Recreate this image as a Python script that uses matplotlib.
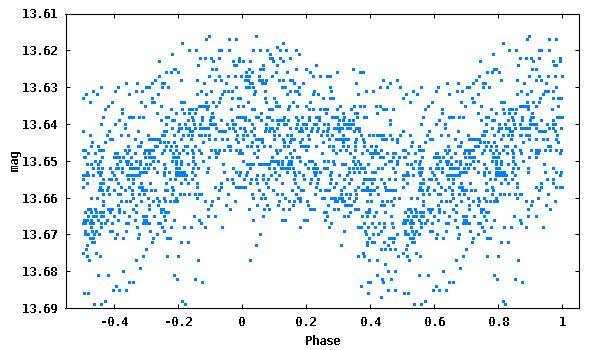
import matplotlib
matplotlib.use('Agg')
import matplotlib.pyplot as plt

# magnitudes are quantised to 0.001, so the points are kept row by row
row_616 = [-.103, .044]
row_617 = [-.112, -.041, -.019]
row_618 = [-.186, .128]
row_619 = [.109]
row_620 = [-.166, -.144, -.072, -.066, -.041, .034, .056, .078, .118, .137, .168]
row_621 = [-.218, .087, .178]
row_622 = [-.131, -.115, -.097, -.072, -.009, .087, .093, .118, .150]
row_623 = [-.258, -.091, -.028, -.009, .003, .025, .097, .128]
row_624 = [-.138, -.025, -.019, .065, .109, .231]
row_625 = [-.212, -.208, -.094, -.081, .022, .056, .065, .168, .200, .346]
row_626 = [-.236, -.221, -.199, .012, .031, .106, .140, .212, .296, .368, .377]
row_627 = [-.259, -.103, -.072, -.044, -.022, -.003, .012, .022, .053, .093, .221, .243, .265, .274]
row_628 = [-.271, -.191, -.141, -.084, -.066, .009, .019, .053, .062, .075, .115, .128, .150, .156, .440, .483]
row_629 = [-.361, -.327, -.280, -.249, -.243, -.119, -.050, .025, .031, .062, .072, .162, .190, .355, .461]
row_630 = [-.440, -.387, -.298, -.290, -.249, -.230, -.019, .012, .022, .034, .125, .134, .178, .274, .430, .452, .493]
row_631 = [-.465, -.396, -.330, -.312, -.128, -.097, -.056, -.044, -.031, .040, .072, .150, .165, .171, .224, .277, .387, .408]
row_632 = [-.487, -.453, -.353, -.262, -.141, -.112, -.062, .037, .140, .178, .221, .237, .362]
row_633 = [-.496, -.281, -.069, -.031, -.013, -.006, .072, .100, .252, .274, .284]
row_634 = [-.474, -.406, -.315, -.280, -.275, -.191, -.181, -.112, -.091, -.072, .019, .075, .106, .159, .212]
row_635 = [-.418, -.303, -.253, -.134, -.125, -.119, -.112, -.106, -.081, -.013, .003, .106, .115, .146, .171, .200, .306, .349, .368, .380, .418, .430]
row_636 = [-.428, -.375, -.222, -.187, -.166, -.156, -.144, -.109, -.034, .031, .037, .084, .093, .143, .209, .221, .243, .256, .265, .296, .340, .440, .449, .471]
row_637 = [-.375, -.265, -.206, -.181, -.166, -.147, -.094, .059, .262, .315, .352, .359, .421]
row_638 = [-.434, -.353, -.347, -.340, -.322, -.309, -.237, -.231, -.156, -.125, -.097, -.091, -.016, -.009, -.003, .003, .009, .044, .050, .078, .084, .131, .168, .187, .209, .231, .240, .281, .287, .296, .318, .359, .380, .387]
row_639 = [-.384, -.253, -.219, -.212, -.169, -.153, -.125, -.100, -.066, -.031, .009, .022, .059, .093, .109, .115, .122, .128, .143, .175, .209, .240, .302, .315, .334, .346, .461]
row_640 = [-.440, -.396, -.365, -.237, -.197, -.178, -.150, -.131, -.100, -.091, -.084, -.047, -.028, -.022, .031, .075, .112, .131, .137, .171, .190, .200, .224, .231, .256, .268, .299, .318, .327, .337, .346, .461]
row_641 = [-.365, -.219, -.197, -.191, -.175, -.166, -.147, -.129, -.123, -.117, -.110, -.104, -.081, -.041, -.028, -.006, .006, .037, .075, .087, .093, .109, .150, .168, .184, .200, .218, .237, .268, .287, .296, .306, .312, .327, .337, .355, .365]
row_642 = [-.496, -.415, -.325, -.244, -.237, -.200, -.163, -.156, -.072, -.066, -.059, -.053, -.022, .009, .028, .072, .084, .100, .178, .187, .215, .234, .252, .265, .302, .349, .365]
row_643 = [-.474, -.421, -.378, -.356, -.294, -.250, -.244, -.212, -.184, -.169, -.156, -.134, -.128, -.115, -.103, -.016, .003, .015, .037, .100, .115, .140, .153, .206, .246, .265, .281, .315, .371, .396, .408, .421, .430, .440, .461, .493]
row_644 = [-.412, -.406, -.334, -.290, -.284, -.278, -.272, -.265, -.259, -.191, -.159, -.103, -.084, -.062, -.047, -.019, .003, .044, .050, .056, .062, .100, .128, .153, .162, .187, .209, .271, .293, .302, .312, .321, .330, .355, .377, .436, .443, .449, .468, .483]
row_645 = [-.468, -.428, -.315, -.256, -.244, -.231, -.212, -.122, -.013, .031, .062, .131, .150, .181, .252, .315, .352, .380, .483]
row_646 = [-.471, -.449, -.356, -.325, -.319, -.272, -.265, -.237, -.222, -.206, -.178, -.172, -.147, -.044, -.038, .015, .028, .047, .069, .087, .131, .143, .184, .193, .200, .206, .231, .271, .284, .315, .330, .352, .380, .402, .418]
row_647 = [-.496, -.490, -.446, -.440, -.434, -.365, -.353, -.303, -.297, -.291, -.284, -.278, -.244, -.225, -.206, -.184, -.156, -.134, -.097, -.084, -.072, -.056, -.038, -.019, -.006, .050, .106, .118, .162, .200, .284, .306, .324, .352, .390, .415, .433]
row_648 = [-.481, -.459, -.396, -.390, -.359, -.334, -.306, -.290, -.250, -.216, -.197, -.172, -.153, -.128, -.081, -.075, -.009, .000, .037, .109, .150, .249, .293, .337, .374, .399, .405, .412, .418, .424, .452, .471, .477]
row_649 = [-.493, -.490, -.437, -.400, -.393, -.384, -.372, -.347, -.303, -.290, -.284, -.275, -.216, -.209, -.200, -.153, -.103, -.081, .047, .093, .137, .156, .171, .178, .349, .405, .430, .440, .471, .490]
row_650 = [-.459, -.443, -.381, -.362, -.356, -.331, -.319, -.278, -.262, -.219, -.206, -.191, -.153, -.122, .003, .090, .097, .103, .112, .125, .146, .153, .181, .209, .218, .256, .268, .284, .346, .362, .458, .465, .483]
row_651 = [-.484, -.471, -.449, -.390, -.359, -.347, -.319, -.300, -.287, -.244, -.206, -.191, -.169, -.147, -.059, .015, .022, .028, .034, .053, .059, .065, .072, .078, .084, .112, .125, .143, .153, .196, .228, .287, .312, .321, .352, .368, .393, .446, .483]
row_652 = [-.465, -.449, -.437, -.412, -.393, -.387, -.375, -.350, -.343, -.337, -.331, -.325, -.306, -.294, -.275, -.240, -.206, -.197, -.153, -.138, -.106, -.028, .025, .084, .100, .122, .128, .134, .140, .146, .159, .206, .221, .228, .234, .256, .265, .334, .346, .359, .371, .380, .424, .436, .471]
row_653 = [-.484, -.449, -.440, -.406, -.375, -.319, -.313, -.306, -.300, -.265, -.244, -.228, -.206, -.200, -.194, -.187, -.181, -.156, -.109, -.056, -.019, -.006, .015, .103, .140, .162, .178, .224, .231, .243, .277, .334, .349, .365, .384, .405, .415, .477]
row_654 = [-.496, -.490, -.481, -.465, -.443, -.400, -.359, -.350, -.340, -.331, -.322, -.244, -.206, -.200, -.194, -.187, -.181, -.175, -.147, -.009, .012, .047, .065, .090, .115, .165, .190, .228, .274, .302, .327]
row_655 = [-.496, -.434, -.415, -.409, -.393, -.356, -.340, -.225, -.209, -.178, -.156, -.047, -.031, .006, .028, .044, .065, .081, .106, .162, .193, .215, .237, .277, .318, .340, .380, .387, .393, .399, .405, .412, .433, .458, .477]
row_656 = [-.484, -.443, -.434, -.387, -.340, -.315, -.287, -.237, -.191, -.169, -.141, -.066, -.028, .025, .047, .075, .125, .165, .212, .234, .274, .293, .334, .377, .405, .443]
row_657 = [-.496, -.443, -.418, -.378, -.353, -.322, -.312, -.219, -.141, -.084, -.066, -.019, -.009, -.003, .003, .009, .081, .175, .231, .287, .318, .362, .390, .421, .446]
row_658 = [-.446, -.437, -.421, -.400, -.365, -.343, -.312, -.306, -.300, -.284, -.272, -.240, -.234, -.216, -.072, .053, .097, .156, .184, .190, .243, .259, .265, .271, .309, .352, .374, .383, .393, .402, .412, .449, .458, .468, .477]
row_659 = [-.434, -.415, -.387, -.381, -.343, -.322, -.306, -.219, -.194, -.181, -.166, -.147, -.134, -.128, -.044, .031, .065, .109, .125, .168, .228, .309, .324, .337, .355, .399, .424]
row_660 = [-.471, -.453, -.340, -.294, -.265, -.244, -.206, -.141, -.075, .034, .059, .072, .134, .175, .181, .249, .256, .277, .284, .290, .302, .312, .334, .355, .474, .490]
row_661 = [-.434, -.378, -.362, -.350, -.315, -.278, -.259, -.240, -.225, -.212, -.203, -.115, -.094, -.022, .115, .146, .162, .181, .203, .290, .296, .312, .318, .349, .390, .402, .436, .452, .465]
row_662 = [-.434, -.387, -.331, -.290, -.262, -.097, -.050, .047, .078, .112, .159, .206, .268, .321, .327, .334, .340, .433, .443, .471]
row_663 = [-.481, -.474, -.459, -.418, -.412, -.406, -.384, -.340, -.290, -.253, -.247, -.106, -.038, .022, .069, .084, .128, .146, .212, .218, .224, .287, .299, .352, .362, .396]
row_664 = [-.490, -.471, -.456, -.443, -.434, -.412, -.384, -.368, -.331, -.253, -.240, -.231, .256, .262, .337, .387, .396, .418, .446]
row_665 = [-.481, -.465, -.456, -.440, -.434, -.400, -.353, -.309, -.300, -.275, -.244, -.150, -.106, -.084, .065, .265, .318, .330, .374, .390, .412, .465]
row_666 = [-.493, -.484, -.471, -.449, -.421, -.387, -.334, -.306, -.300, -.240, -.212, -.134, .034, .125, .134, .193, .204, .259]
row_667 = [-.496, -.490, -.474, -.465, -.440, -.428, -.406, -.362, -.356, -.309, -.300, -.290, -.262, -.256, -.128, .277, .380, .405, .427, .443, .468]
row_668 = [-.471, -.440, -.328, -.250, -.222, -.181, -.159, -.115, -.062, .181, .271, .362, .371, .393, .415, .443, .471]
row_669 = [-.490, -.468, -.456, -.412, -.406, -.362, -.287, -.244, .318, .384, .433]
row_670 = [-.490, -.481, -.462, -.446, -.390, -.322, -.265, .056, .387, .408, .424, .483]
row_671 = [-.474, -.465, -.396, -.372, -.325, -.278, -.234, -.225, .396, .458, .468, .474]
row_672 = [-.468, -.462, -.281, -.191, -.169, .390, .405, .412, .443, .471]
row_673 = [-.484, .044, .309, .390, .455]
row_674 = [-.487, -.300, .433, .446, .461, .477]
row_675 = [-.496, -.456, .377]
row_676 = [-.484, -.443, -.309, -.234, -.200, .362, .380, .486]
row_677 = [-.478, -.331, -.138, .025, .396, .421]
row_678 = [.446]
row_679 = [-.319]
row_680 = [-.372, .455, .477]
row_681 = [-.449, -.418, -.212, .421]
row_682 = [-.203, -.147, .436, .465]
row_683 = [-.353, -.340, -.125, .393, .399, .440]
row_684 = [-.393, .371]
row_685 = [-.403, -.384, -.362, .455, .477]
row_686 = [-.493, -.481, .393]
row_687 = [.433]
row_688 = [-.428, -.187]
row_689 = [-.462, -.440, -.178]

phase_rows = [row_616, row_617, row_618, row_619, row_620, row_621, row_622, row_623, row_624, row_625,
              row_626, row_627, row_628, row_629, row_630, row_631, row_632, row_633, row_634, row_635,
              row_636, row_637, row_638, row_639, row_640, row_641, row_642, row_643, row_644, row_645,
              row_646, row_647, row_648, row_649, row_650, row_651, row_652, row_653, row_654, row_655,
              row_656, row_657, row_658, row_659, row_660, row_661, row_662, row_663, row_664, row_665,
              row_666, row_667, row_668, row_669, row_670, row_671, row_672, row_673, row_674, row_675,
              row_676, row_677, row_678, row_679, row_680, row_681, row_682, row_683, row_684, row_685,
              row_686, row_687, row_688, row_689]
first_mag = 13.616
mag_step = 0.001

x_ticks = [-0.4, -0.2, 0, 0.2, 0.4, 0.6, 0.8, 1]
x_labels = ['-0.4', '-0.2', '0', '0.2', '0.4', '0.6', '0.8', '1']
y_ticks = [13.61, 13.62, 13.63, 13.64, 13.65, 13.66, 13.67, 13.68, 13.69]


def main():
    plt.rcParams['font.family'] = 'DejaVu Sans Mono'
    plt.rcParams['font.size'] = 8.6
    plt.rcParams['text.antialiased'] = False
    plt.rcParams['text.hinting'] = 'native'
    plt.rcParams['text.hinting_factor'] = 1

    phase = []
    mag = []
    for i, row in enumerate(phase_rows):
        for p in row:
            phase.append(p)
            mag.append(first_mag + i * mag_step)
            # the folded curve repeats: negative phases show again one cycle on
            if p < 0:
                phase.append(p + 1)
                mag.append(first_mag + i * mag_step)

    fig = plt.figure(figsize=(6, 3.5), dpi=100)
    ax = fig.add_axes([65.5 / 600, 1 - 308 / 350, 513 / 600, 294.5 / 350])
    ax.plot(phase, mag, linestyle='none', marker='s', markersize=2.16,
            markeredgewidth=0, color='#0080ff', antialiased=False)

    ax.set_xlim(-0.55, 1.05)
    ax.set_ylim(13.69, 13.61)
    ax.set_xticks(x_ticks)
    ax.set_xticklabels(x_labels, fontweight='bold')
    ax.set_yticks(y_ticks)
    ax.set_yticklabels([f'{y:.2f}' for y in y_ticks], fontweight='bold')
    ax.tick_params(direction='in', top=True, right=True, length=2.6, width=0.72, pad=6)
    for spine in ax.spines.values():
        spine.set_linewidth(0.8)
    ax.set_xlabel('Phase', labelpad=4, fontweight='bold')
    ax.set_ylabel('mag', labelpad=1, fontweight='bold')
    fig.savefig('out.png', dpi=100)


if __name__ == "__main__":
    main()
